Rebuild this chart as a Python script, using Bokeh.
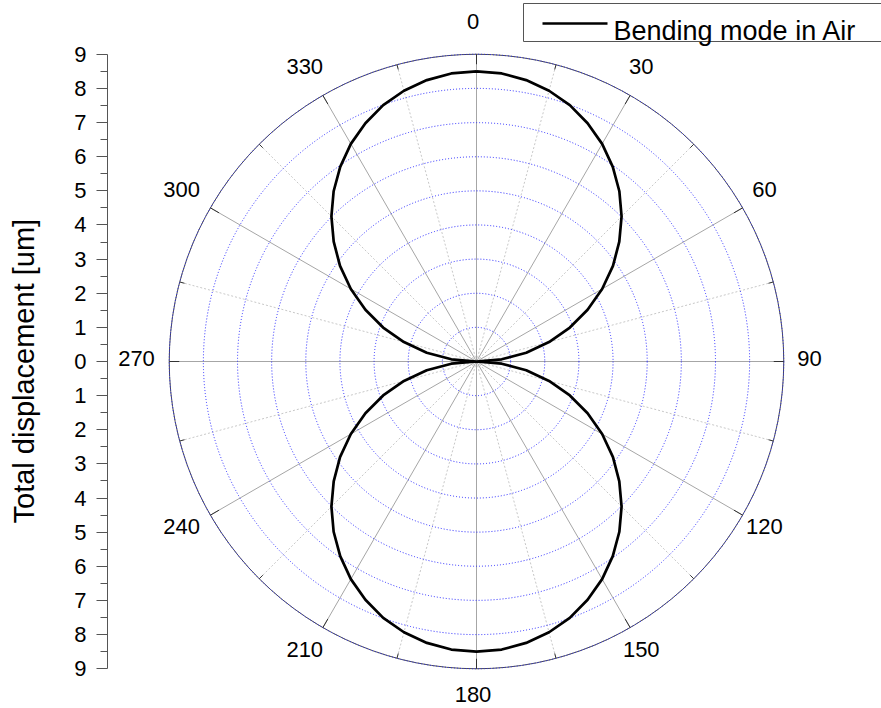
import numpy as np
from bokeh.plotting import figure
from bokeh.models import (LinearAxis, FixedTicker, CustomJSTickFormatter,
                          Range1d, ColumnDataSource, Title)
from bokeh.core.properties import value
from bokeh.embed import file_html
from bokeh.resources import INLINE

# --- data -----------------------------------------------------------------
angle_deg = [0, 5, 10, 15, 20, 25, 30, 35, 40, 45, 50, 55, 60, 65, 70, 75, 80, 85,
             90, 95, 100, 105, 110, 115, 120, 125, 130, 135, 140, 145, 150, 155,
             160, 165, 170, 175, 180, 185, 190, 195, 200, 205, 210, 215, 220, 225,
             230, 235, 240, 245, 250, 255, 260, 265, 270, 275, 280, 285, 290, 295,
             300, 305, 310, 315, 320, 325, 330, 335, 340, 345, 350, 355, 360]
displacement_um = [8.50, 8.47, 8.37, 8.21, 7.99, 7.70, 7.36, 6.96, 6.51, 6.01, 5.46,
                   4.88, 4.25, 3.59, 2.91, 2.20, 1.48, 0.74, 0.00, 0.74, 1.48, 2.20,
                   2.91, 3.59, 4.25, 4.88, 5.46, 6.01, 6.51, 6.96, 7.36, 7.70, 7.99,
                   8.21, 8.37, 8.47, 8.50, 8.47, 8.37, 8.21, 7.99, 7.70, 7.36, 6.96,
                   6.51, 6.01, 5.46, 4.88, 4.25, 3.59, 2.91, 2.20, 1.48, 0.74, 0.00,
                   0.74, 1.48, 2.20, 2.91, 3.59, 4.25, 4.88, 5.46, 6.01, 6.51, 6.96,
                   7.36, 7.70, 7.99, 8.21, 8.37, 8.47, 8.50]
series_name = "Bending mode in Air"
axis_title = "Total displacement [um]"

angle_ticks = [0, 30, 60, 90, 120, 150, 180, 210, 240, 270, 300, 330]
angle_tick_labels = ["0", "30", "60", "90", "120", "150", "180", "210", "240",
                     "270", "300", "330"]
minor_angle_ticks = [15, 45, 75, 105, 135, 165, 195, 225, 255, 285, 315, 345]
radial_ticks = [-9, -8, -7, -6, -5, -4, -3, -2, -1, 0, 1, 2, 3, 4, 5, 6, 7, 8, 9]
radial_minor_ticks = [-8.5, -7.5, -6.5, -5.5, -4.5, -3.5, -2.5, -1.5, -0.5,
                      0.5, 1.5, 2.5, 3.5, 4.5, 5.5, 6.5, 7.5, 8.5]
ring_values = [1, 2, 3, 4, 5, 6, 7, 8, 9]
r_max = 9

# --- layout ---------------------------------------------------------------
W, H = 881, 708
LEFT = 107            # width of the panel holding the radial axis
S = 34.14             # pixels per micrometre
CX, CY = 476, 361     # pole position on the canvas


def X(px):
    return (px - CX) / S


def Y(py):
    return (CY - py) / S


FONT = value("Liberation Sans")

p = figure(width=W, height=H,
           x_range=Range1d(X(LEFT), X(W)), y_range=Range1d(Y(H), Y(0)),
           x_axis_type=None, y_axis_type=None,
           output_backend="svg", toolbar_location=None,
           min_border_left=LEFT, min_border_right=0,
           min_border_top=0, min_border_bottom=0)
p.outline_line_color = None
p.background_fill_color = "white"

# radial axis on the left, mirrored about the pole
yaxis = LinearAxis(
    ticker=FixedTicker(ticks=radial_ticks, minor_ticks=radial_minor_ticks),
    formatter=CustomJSTickFormatter(code="return Math.abs(tick).toFixed(0)"),
    bounds=(-r_max, r_max),
)
yaxis.axis_line_color = "#555555"
yaxis.major_tick_line_color = "#555555"
yaxis.minor_tick_line_color = "#555555"
yaxis.major_tick_out = 11
yaxis.major_tick_in = 0
yaxis.minor_tick_out = 7
yaxis.minor_tick_in = 0
yaxis.major_label_standoff = 10
yaxis.major_label_text_font = "Liberation Sans"
yaxis.major_label_text_font_size = "22px"
yaxis.major_label_text_color = "black"
p.add_layout(yaxis, "left")

# axis title in the left margin, shifted along the axis; the empty second
# line keeps it clear of the tick labels
p.add_layout(Title(text=axis_title + "\n", align="left", offset=H - 523,
                   vertical_align="bottom", standoff=0,
                   text_font="Liberation Sans", text_font_size="29px",
                   text_font_style="normal", text_color="black"), "left")

# angular spokes
maj = np.radians(angle_ticks)
mnr = np.radians(minor_angle_ticks)
p.segment(x0=0, y0=0, x1=r_max * np.sin(mnr), y1=r_max * np.cos(mnr),
          line_color="#c8c8c8", line_width=1, line_dash="2 2")
p.segment(x0=0, y0=0, x1=r_max * np.sin(maj), y1=r_max * np.cos(maj),
          line_color="#a6a6a6", line_width=1)

# concentric rings
p.circle(x=0, y=0, radius=r_max, fill_color=None, line_color="#4a4a4a", line_width=1)
p.circle(x=[0] * len(ring_values), y=[0] * len(ring_values), radius=ring_values,
         fill_color=None, line_color="#2a2aff", line_width=1, line_dash="1 2")

# tick marks on the outer ring
tick_maj = 10 / S
tick_mnr = 5 / S
p.segment(x0=(r_max - tick_maj) * np.sin(maj), y0=(r_max - tick_maj) * np.cos(maj),
          x1=r_max * np.sin(maj), y1=r_max * np.cos(maj),
          line_color="#333333", line_width=1)
p.segment(x0=(r_max - tick_mnr) * np.sin(mnr), y0=(r_max - tick_mnr) * np.cos(mnr),
          x1=r_max * np.sin(mnr), y1=r_max * np.cos(mnr),
          line_color="#333333", line_width=1)

# angle labels
r_lab = 336.5 / S
p.text(x=r_lab * np.sin(maj), y=r_lab * np.cos(maj), text=angle_tick_labels,
       text_font=FONT, text_font_size="22px", text_color="black",
       text_align="center", text_baseline="middle", x_offset=-3.5, y_offset=-3.5)

# displacement curve
th = np.radians(angle_deg)
r = np.array(displacement_um)
src = ColumnDataSource(dict(x=r * np.sin(th), y=r * np.cos(th)))
p.line("x", "y", source=src, line_color="black", line_width=2.7)

# legend box
p.quad(left=X(523), right=X(W + 20), top=Y(3), bottom=Y(41),
       fill_color="white", line_color="#555555", line_width=1)
p.segment(x0=X(542), y0=Y(23), x1=X(607), y1=Y(23), line_color="black", line_width=2.7)
p.text(x=X(613), y=Y(30), text=[series_name], text_font=FONT,
       text_font_size="27px", text_color="black",
       text_align="left", text_baseline="middle")

open("out.html", "w").write(file_html(p, INLINE))
